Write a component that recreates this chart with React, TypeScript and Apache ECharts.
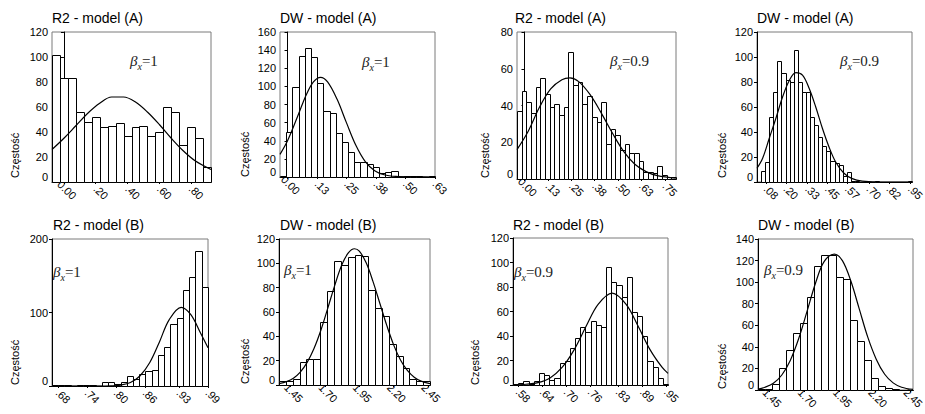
import React, { useEffect, useRef } from 'react';
import * as echarts from 'echarts';

// ---------------- data ----------------
const TITLES = ['R2 - model (A)', 'DW - model (A)', 'R2 - model (A)', 'DW - model (A)', 'R2 - model (B)', 'DW - model (B)', 'R2 - model (B)', 'DW - model (B)'];
const BETAS = ['1', '1', '0.9', '0.9', '1', '1', '0.9', '0.9'];
const Y_MAX = [120, 160, 80, 120, 200, 120, 120, 140];
const Y_STEP = [20, 20, 20, 20, 100, 20, 20, 20];

// Panel 1: R2 model A, beta 1
const p1Counts = [102, 83, 83, 56, 48, 52, 44, 45, 47, 37, 44, 45, 37, 40, 60, 56, 30, 44, 35, 12];
const p1Bins = [-0.075, 0.05, 0.925]; // start, width, axis max
const p1Ticks = [0, 0.2, 0.4, 0.6, 0.8];
const p1TickLabels = ['0.00', '.20', '.40', '.60', '.80'];
const p1CurveX = [-0.075, 0.0, 0.075, 0.15, 0.225, 0.3, 0.375, 0.45, 0.525, 0.6, 0.675, 0.75, 0.825, 0.925];
const p1CurveY = [26, 35, 45, 55, 63, 68, 68, 64, 56, 46, 35, 25, 17, 10];

// Panel 2: DW model A, beta 1
const p2Counts = [1, 50, 99, 134, 142, 132, 104, 73, 71, 49, 39, 28, 17, 17, 14, 11, 4, 5, 7, 0, 1, 1, 1, 0, 1];
const p2Bins = [-0.032, 0.02628, 0.626];
const p2Ticks = [0, 0.125, 0.25, 0.375, 0.5, 0.625];
const p2TickLabels = ['0.00', '.13', '.25', '.38', '.50', '.63'];
const p2CurveX = [-0.032, 0, 0.04, 0.08, 0.11, 0.14, 0.17, 0.21, 0.25, 0.29, 0.33, 0.37, 0.41, 0.46, 0.53, 0.626];
const p2CurveY = [25, 40, 65, 91, 105, 110, 105, 86, 60, 35, 17, 7, 2.5, 0.6, 0.1, 0];

// Panel 3: R2 model A, beta 0.9
const p3Counts = [37, 48, 42, 36, 50, 55, 46, 39, 41, 35, 39, 69, 51, 53, 41, 45, 34, 31, 42, 19, 27, 24, 16, 19, 14, 14, 10, 4, 4, 3, 7, 2, 1, 1];
const p3Bins = [-0.04, 0.025, 0.81];
const p3Ticks = [0, 0.125, 0.25, 0.375, 0.5, 0.625, 0.75];
const p3TickLabels = ['0.00', '.13', '.25', '.38', '.50', '.63', '.75'];
const p3CurveX = [-0.04, 0.02, 0.08, 0.14, 0.2, 0.243, 0.29, 0.35, 0.41, 0.47, 0.53, 0.59, 0.65, 0.71, 0.81];
const p3CurveY = [16, 26, 39, 49, 54, 55, 53, 46, 36, 25, 15, 8, 4, 1.8, 0.4];

// Panel 4: DW model A, beta 0.9
const p4Counts = [0, 9, 16, 52, 72, 97, 87, 82, 80, 106, 80, 72, 72, 52, 46, 36, 29, 25, 17, 15, 14, 5, 8, 1, 1, 0, 0, 0, 0, 1, 0, 0, 0, 0, 0, 0, 0, 1];
const p4Bins = [0.026, 0.02458, 0.96];
const p4Ticks = [0.08, 0.2, 0.33, 0.45, 0.57, 0.7, 0.82, 0.95];
const p4TickLabels = ['.08', '.20', '.33', '.45', '.57', '.70', '.82', '.95'];
const p4CurveX = [0.026, 0.06, 0.1, 0.14, 0.18, 0.22, 0.26, 0.3, 0.34, 0.38, 0.42, 0.46, 0.5, 0.55, 0.6, 0.66, 0.75, 0.96];
const p4CurveY = [11, 19, 35, 51, 68, 81, 87.5, 85.5, 75, 60, 43, 28, 16, 7, 2.7, 0.7, 0.05, 0];

// Panel 5: R2 model B, beta 1
const p5Counts = [1, 1, 1, 0, 2, 2, 2, 0, 5, 5, 3, 6, 13, 10, 17, 20, 22, 42, 53, 84, 93, 131, 148, 183, 135];
const p5Bins = [0.6676, 0.0129, 0.9905];
const p5Ticks = [0.68, 0.74, 0.8, 0.86, 0.93, 0.99];
const p5TickLabels = ['.68', '.74', '.80', '.86', '.93', '.99'];
const p5CurveX = [0.6676, 0.76, 0.79, 0.81, 0.83, 0.85, 0.87, 0.89, 0.91, 0.935, 0.955, 0.975, 0.9905];
const p5CurveY = [0, 0.02, 0.3, 1.3, 4.7, 14, 32, 60, 90, 107, 97, 72, 52];

// Panel 6: DW model B, beta 1
const p6Counts = [3, 3, 5, 19, 21, 21, 52, 77, 102, 99, 105, 107, 106, 78, 63, 57, 34, 24, 14, 5, 3, 3];
const p6Bins = [1.365, 0.05, 2.465];
const p6Ticks = [1.45, 1.7, 1.95, 2.2, 2.45];
const p6TickLabels = ['1.45', '1.70', '1.95', '2.20', '2.45'];
const p6CurveX = [1.365, 1.42, 1.47, 1.52, 1.57, 1.62, 1.67, 1.72, 1.77, 1.82, 1.87, 1.915, 1.95, 2.0, 2.05, 2.1, 2.15, 2.2, 2.25, 2.3, 2.35, 2.4, 2.465];
const p6CurveY = [1.2, 2.8, 5.6, 10.6, 18.6, 30, 45, 63, 81.5, 98, 108.6, 112, 110, 100.4, 85, 67, 49, 33, 20.6, 12, 6.4, 3.2, 1.2];

// Panel 7: R2 model B, beta 0.9
const p7Counts = [1, 2, 3, 1, 3, 10, 8, 4, 6, 18, 20, 30, 38, 47, 43, 52, 49, 47, 96, 84, 82, 72, 88, 60, 56, 40, 20, 15, 6, 1];
const p7Bins = [0.5675, 0.0129, 0.9545];
const p7Ticks = [0.58, 0.64, 0.7, 0.76, 0.83, 0.89, 0.95];
const p7TickLabels = ['.58', '.64', '.70', '.76', '.83', '.89', '.95'];
const p7CurveX = [0.5675, 0.6, 0.63, 0.66, 0.69, 0.72, 0.75, 0.78, 0.815, 0.85, 0.88, 0.91, 0.94, 0.9545];
const p7CurveY = [0.1, 0.6, 2, 5.8, 14.3, 28.7, 47.9, 65.8, 75, 65.8, 47.9, 28.7, 14.3, 9.5];

// Panel 8: DW model B, beta 0.9
const p8Counts = [1, 1, 6, 20, 37, 53, 62, 86, 115, 125, 125, 105, 103, 65, 45, 28, 11, 4, 2, 1, 0, 0];
const p8Bins = [1.371, 0.05, 2.471];
const p8Ticks = [1.45, 1.7, 1.95, 2.2, 2.45];
const p8TickLabels = ['1.45', '1.70', '1.95', '2.20', '2.45'];
const p8CurveX = [1.371, 1.42, 1.48, 1.54, 1.6, 1.66, 1.72, 1.78, 1.84, 1.913, 1.97, 2.03, 2.09, 2.15, 2.21, 2.27, 2.33, 2.39, 2.471];
const p8CurveY = [0.8, 2.5, 6.2, 13.9, 27.4, 47.7, 73.3, 99.4, 119, 126, 120, 101, 75, 49, 28.6, 14.6, 6.6, 2.6, 0.6];

const COUNTS = [p1Counts, p2Counts, p3Counts, p4Counts, p5Counts, p6Counts, p7Counts, p8Counts];
const BINS = [p1Bins, p2Bins, p3Bins, p4Bins, p5Bins, p6Bins, p7Bins, p8Bins];
const TICKS = [p1Ticks, p2Ticks, p3Ticks, p4Ticks, p5Ticks, p6Ticks, p7Ticks, p8Ticks];
const TICK_LABELS = [p1TickLabels, p2TickLabels, p3TickLabels, p4TickLabels, p5TickLabels, p6TickLabels, p7TickLabels, p8TickLabels];
const CURVE_X = [p1CurveX, p2CurveX, p3CurveX, p4CurveX, p5CurveX, p6CurveX, p7CurveX, p8CurveX];
const CURVE_Y = [p1CurveY, p2CurveY, p3CurveY, p4CurveY, p5CurveY, p6CurveY, p7CurveY, p8CurveY];

// ---------------- layout ----------------
const GRIDS = [
  { left: 52, top: 32, width: 159, height: 150 },
  { left: 280, top: 32, width: 155, height: 145 },
  { left: 517, top: 32, width: 159, height: 147 },
  { left: 757, top: 32, width: 155, height: 150 },
  { left: 52, top: 239, width: 156, height: 147 },
  { left: 279, top: 239, width: 151, height: 146 },
  { left: 513, top: 238, width: 155, height: 147 },
  { left: 758, top: 239, width: 155, height: 151 },
];
const TITLE_POS = [[52, 18], [280, 18], [515, 18], [757, 18], [53, 225], [280, 225], [513, 225], [758, 225]];
const BETA_POS = [[130, 61], [362, 62], [610, 61], [840, 61], [53, 272], [284, 270], [514, 272], [764, 270]];
const YNAME_POS = [[15, 178], [245, 177], [485, 178], [722, 178], [15, 385], [245, 384], [475, 385], [722, 389]];

const SANS = '"Liberation Sans", Arial, Helvetica, sans-serif';
const SERIF = '"Liberation Serif", "Times New Roman", serif';

function buildOption() {
  const grid: any[] = [];
  const xAxis: any[] = [];
  const yAxis: any[] = [];
  const series: any[] = [];
  const graphic: any[] = [];

  for (let i = 0; i < 8; i++) {
    const g = GRIDS[i];
    const [binStart, binWidth, xMax] = BINS[i];
    const ticks = TICKS[i];
    const labels = TICK_LABELS[i];
    grid.push({
      ...g,
      containLabel: false,
      outerBoundsMode: 'none',
      show: true,
      borderColor: '#7a7a7a',
      borderWidth: 1,
      backgroundColor: 'transparent',
    });
    xAxis.push({
      type: 'value',
      gridIndex: i,
      min: binStart,
      max: xMax,
      axisLine: { show: true, onZero: false, lineStyle: { color: '#000', width: 1 } },
      splitLine: { show: false },
      axisTick: { show: true, length: 2, customValues: ticks, lineStyle: { color: '#000' } },
      axisLabel: {
        show: true,
        customValues: ticks,
        rotate: -45,
        margin: 5,
        fontSize: 11,
        fontFamily: SANS,
        color: '#000',
        hideOverlap: false,
        formatter: (v: number) => {
          let k = 0;
          for (let j = 0; j < ticks.length; j++) if (Math.abs(ticks[j] - v) < Math.abs(ticks[k] - v)) k = j;
          return '{a|' + labels[k] + '}';
        },
        rich: { a: { width: 15, lineHeight: 11, align: 'right', fontSize: 11, fontFamily: SANS, color: '#000' } },
      },
    });
    yAxis.push({
      type: 'value',
      gridIndex: i,
      min: 0,
      max: Y_MAX[i],
      interval: Y_STEP[i],
      axisLine: { show: true, lineStyle: { color: '#000', width: 1 } },
      axisTick: { show: true, length: 3, lineStyle: { color: '#000' } },
      splitLine: { show: false },
      axisLabel: {
        fontSize: 11,
        fontFamily: SANS,
        color: '#000',
        margin: 4,
        verticalAlignMinLabel: 'bottom',
        hideOverlap: false,
      },
    });
    const barData = COUNTS[i].map((c, k) => [binStart + k * binWidth, binStart + (k + 1) * binWidth, c]);
    series.push({
      type: 'custom',
      xAxisIndex: i,
      yAxisIndex: i,
      silent: true,
      data: barData,
      encode: { x: [0, 1], y: 2 },
      z: 2,
      renderItem: (params: any, api: any) => {
        const a = api.coord([api.value(0), 0]);
        const b = api.coord([api.value(1), api.value(2)]);
        const left = Math.round(a[0]) + 0.5;
        const right = Math.round(b[0]) + 0.5;
        const bottom = Math.round(a[1]) + 0.5;
        const top = Math.round(b[1]) + 0.5;
        return {
          type: 'rect',
          shape: { x: left, y: top, width: right - left, height: bottom - top },
          style: { fill: '#fff', stroke: '#000', lineWidth: 1 },
        };
      },
    });
    series.push({
      type: 'line',
      xAxisIndex: i,
      yAxisIndex: i,
      silent: true,
      data: CURVE_X[i].map((x, k) => [x, CURVE_Y[i][k]]),
      smooth: 0.35,
      symbol: 'none',
      z: 3,
      lineStyle: { color: '#000', width: 1.2 },
    });

    graphic.push({
      type: 'text',
      x: TITLE_POS[i][0],
      y: TITLE_POS[i][1],
      silent: true,
      style: {
        text: TITLES[i],
        fontSize: 14,
        fontFamily: SANS,
        fill: '#000',
        align: 'left',
        verticalAlign: 'middle',
        textAlign: 'left',
        textVerticalAlign: 'middle',
      },
    });
    graphic.push({
      type: 'text',
      x: BETA_POS[i][0],
      y: BETA_POS[i][1],
      silent: true,
      style: {
        text: '{b|β}{s|x}{n|=' + BETAS[i] + '}',
        fontSize: 15,
        fontFamily: SERIF,
        fill: '#222',
        align: 'left',
        verticalAlign: 'middle',
        textAlign: 'left',
        textVerticalAlign: 'middle',
        rich: {
          b: { fontFamily: SERIF, fontStyle: 'italic', fontSize: 15, lineHeight: 20, fill: '#222', color: '#222' },
          s: { fontFamily: SERIF, fontStyle: 'italic', fontSize: 10, lineHeight: 14, verticalAlign: 'bottom', fill: '#222', color: '#222' },
          n: { fontFamily: SERIF, fontSize: 15, lineHeight: 20, fill: '#222', color: '#222' },
        },
      },
    });
    graphic.push({
      type: 'text',
      x: YNAME_POS[i][0],
      y: YNAME_POS[i][1],
      rotation: Math.PI / 2,
      silent: true,
      style: {
        text: 'Częstość',
        fontSize: 11,
        fontFamily: SANS,
        fill: '#000',
        align: 'left',
        verticalAlign: 'middle',
        textAlign: 'left',
        textVerticalAlign: 'middle',
      },
    });
  }

  return {
    animation: false,
    backgroundColor: '#fff',
    grid,
    xAxis,
    yAxis,
    series,
    graphic: { elements: graphic },
  };
}

export default function App() {
  const ref = useRef<HTMLDivElement>(null);
  useEffect(() => {
    document.body.style.margin = '0';
    if (!ref.current) return;
    const chart = echarts.init(ref.current, undefined, { renderer: 'svg' });
    chart.setOption(buildOption() as any);
    return () => chart.dispose();
  }, []);
  return <div ref={ref} style={{ width: 925, height: 414, position: 'absolute', left: 0, top: 0 }} />;
}
